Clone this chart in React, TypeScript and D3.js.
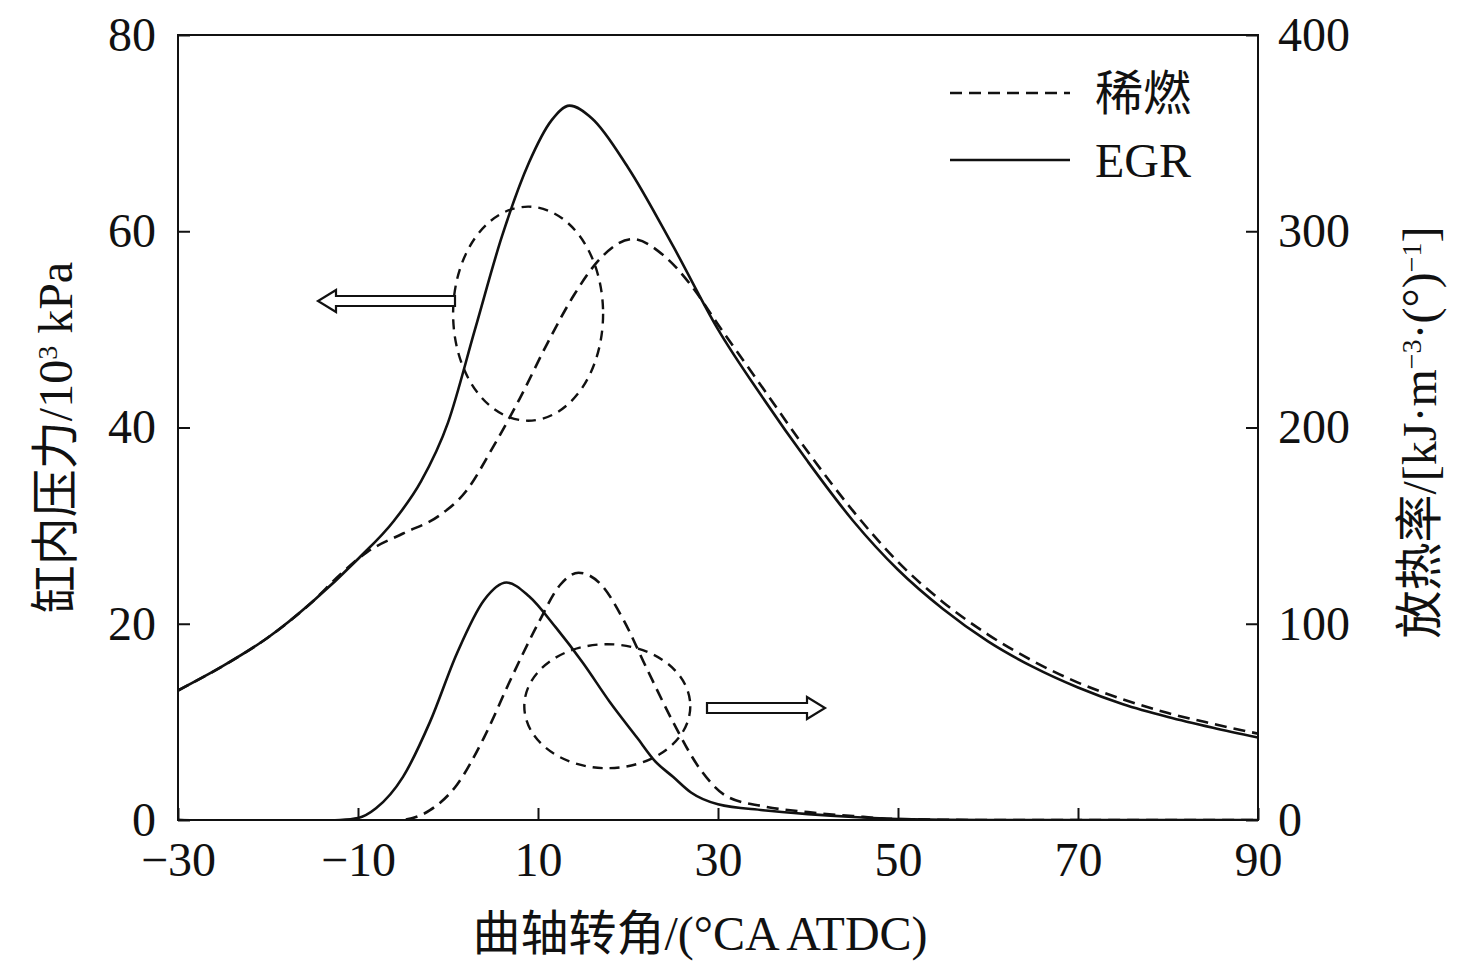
import * as d3 from "d3";
import { useEffect, useRef } from "react";

const egrPressure: [number, number][] = [
  [-30, 13.2], [-25, 15.7], [-20, 18.6], [-15, 22.3], [-10, 26.6], [-6, 30.5], [-3, 34.5], [0, 40.5],
  [3, 50], [6, 59.5], [9, 67], [11.5, 71.3], [13.5, 72.8], [16, 71.5], [20, 66.5], [25, 58.5],
  [30, 50], [35, 43], [40, 36.5], [45, 30.5], [50, 25.5], [55, 21.5], [60, 18.2], [65, 15.6],
  [70, 13.5], [75, 11.8], [80, 10.5], [85, 9.4], [90, 8.4],
];
const leanPressure: [number, number][] = [
  [-30, 13.2], [-25, 15.7], [-20, 18.6], [-15, 22.3], [-12, 25], [-9, 27.3], [-5, 29.2], [-1, 31],
  [2, 33.5], [5, 38], [8, 43], [11, 48.5], [14, 53.5], [17, 57.3], [20.5, 59.2], [24, 57.5],
  [27, 54.5], [30, 50.5], [35, 44], [40, 37.5], [45, 31.5], [50, 26.3], [55, 22.2], [60, 18.9],
  [65, 16.2], [70, 14], [75, 12.3], [80, 10.9], [85, 9.8], [90, 8.8],
];
const egrHeat: [number, number][] = [
  [-30, 0], [-20, -1], [-12, 0], [-10, 1], [-8, 6], [-5, 22], [-2, 50], [1, 85], [4, 112],
  [6.5, 121], [9, 114], [12, 98], [15, 80], [18, 60], [21, 42], [23, 30], [25, 22], [27, 14],
  [30, 8], [35, 5], [40, 3], [45, 1.5], [50, 0.5], [60, 0], [90, 0],
];
const leanHeat: [number, number][] = [
  [-30, 0], [-20, -1], [-8, -1], [-5, 0], [-2, 5], [1, 18], [4, 42], [7, 72], [10, 100],
  [12.5, 120], [14.5, 126], [17, 120], [19.5, 102], [22, 78], [25, 50], [28, 26], [31, 12],
  [35, 7], [40, 4], [45, 2], [50, 0.5], [60, 0], [90, 0],
];
const xTicks = [-30, -10, 10, 30, 50, 70, 90];
const yLeftTicks = [0, 20, 40, 60, 80];
const yRightTicks = [0, 100, 200, 300, 400];

const W = 1476, H = 972;
const m = { left: 178, right: 1258, top: 35, bottom: 820 };
const serif = "'Liberation Serif', 'Times New Roman', serif";
const cjk = "'Liberation Serif', 'Noto Sans CJK SC', serif";

export default function App() {
  const ref = useRef<SVGSVGElement | null>(null);
  useEffect(() => {
    if (!ref.current) return;
    const svg = d3.select(ref.current);
    svg.selectAll("*").remove();
    const x = d3.scaleLinear().domain([-30, 90]).range([m.left, m.right]);
    const yL = d3.scaleLinear().domain([0, 80]).range([m.bottom, m.top]);
    const yR = d3.scaleLinear().domain([0, 400]).range([m.bottom, m.top]);

    svg.append("rect").attr("x", m.left).attr("y", m.top).attr("width", m.right - m.left)
      .attr("height", m.bottom - m.top).attr("fill", "none").attr("stroke", "#111").attr("stroke-width", 2);

    const gx = svg.append("g").attr("transform", `translate(0,${m.bottom})`)
      .call(d3.axisBottom(x).tickValues(xTicks).tickSizeInner(-12).tickSizeOuter(0).tickPadding(22)
        .tickFormat((d) => (+d < 0 ? "\u2212" + Math.abs(+d) : String(d))));
    const gl = svg.append("g").attr("transform", `translate(${m.left},0)`)
      .call(d3.axisLeft(yL).tickValues(yLeftTicks).tickSizeInner(-12).tickSizeOuter(0).tickPadding(22));
    const gr = svg.append("g").attr("transform", `translate(${m.right},0)`)
      .call(d3.axisRight(yR).tickValues(yRightTicks).tickSizeInner(-12).tickSizeOuter(0).tickPadding(20));
    [gx, gl, gr].forEach((g) => {
      g.select(".domain").remove();
      g.selectAll("line").attr("stroke", "#111").attr("stroke-width", 2);
      g.selectAll("text").attr("font-family", serif).attr("font-size", 48).attr("fill", "#111");
    });
    gl.selectAll("text").attr("dy", "0.32em");
    gr.selectAll("text").attr("dy", "0.32em");

    svg.append("clipPath").attr("id", "c").append("rect")
      .attr("x", m.left).attr("y", m.top).attr("width", m.right - m.left).attr("height", m.bottom - m.top);
    const plot = svg.append("g").attr("clip-path", "url(#c)");
    const lineL = d3.line<[number, number]>().x((d) => x(d[0])).y((d) => yL(d[1])).curve(d3.curveMonotoneX);
    const lineR = d3.line<[number, number]>().x((d) => x(d[0])).y((d) => yR(d[1])).curve(d3.curveMonotoneX);
    const draw = (d: string | null, dash: boolean) =>
      plot.append("path").attr("d", d).attr("fill", "none").attr("stroke", "#111").attr("stroke-width", 2.6)
        .attr("stroke-dasharray", dash ? "12,7" : null);
    draw(lineL(leanPressure), true);
    draw(lineL(egrPressure), false);
    draw(lineR(leanHeat), true);
    draw(lineR(egrHeat), false);

    // annotation ellipses
    svg.append("ellipse").attr("cx", x(8.9)).attr("cy", yL(51.6)).attr("rx", 75).attr("ry", 107)
      .attr("fill", "none").attr("stroke", "#111").attr("stroke-width", 2.4).attr("stroke-dasharray", "10,7");
    svg.append("ellipse").attr("cx", x(17.7)).attr("cy", yR(58)).attr("rx", 83).attr("ry", 62)
      .attr("fill", "none").attr("stroke", "#111").attr("stroke-width", 2.4).attr("stroke-dasharray", "10,7");

    // hollow arrows
    const arrow = (x0: number, x1: number, yc: number) => {
      const dir = Math.sign(x1 - x0);
      const hb = x1 - dir * 18;
      const pts = [[x0, yc - 5], [hb, yc - 5], [hb, yc - 11], [x1, yc], [hb, yc + 11], [hb, yc + 5], [x0, yc + 5]];
      svg.append("path").attr("d", "M" + pts.map((p) => p.join(",")).join("L") + "Z")
        .attr("fill", "white").attr("stroke", "#111").attr("stroke-width", 2.2);
    };
    arrow(455, 318, 301);
    arrow(707, 825, 708);

    // legend
    const lg = [{ t: "稀燃", y: 93, dash: true }, { t: "EGR", y: 160, dash: false }];
    lg.forEach((l) => {
      svg.append("line").attr("x1", 950).attr("x2", 1070).attr("y1", l.y).attr("y2", l.y)
        .attr("stroke", "#111").attr("stroke-width", 2.6).attr("stroke-dasharray", l.dash ? "12,7" : null);
      svg.append("text").attr("x", 1095).attr("y", l.y + 17).attr("font-family", cjk).attr("font-size", 48)
        .attr("fill", "#111").text(l.t);
    });

    svg.append("text").attr("x", 700).attr("y", 950).attr("text-anchor", "middle")
      .attr("font-family", cjk).attr("font-size", 48).attr("fill", "#111").text("曲轴转角/(°CA ATDC)");
    svg.append("text").attr("transform", `translate(72,${(m.top + m.bottom) / 2 + 10}) rotate(-90)`)
      .attr("text-anchor", "middle").attr("font-family", cjk).attr("font-size", 48).attr("fill", "#111")
      .html('缸内压力/10<tspan baseline-shift="super" font-size="28">3</tspan> kPa');
    svg.append("text").attr("transform", `translate(1436,${(m.top + m.bottom) / 2 + 5}) rotate(-90)`)
      .attr("text-anchor", "middle").attr("font-family", cjk).attr("font-size", 48).attr("fill", "#111")
      .html('放热率/[kJ·m<tspan baseline-shift="super" font-size="28">−3</tspan>·(°)<tspan baseline-shift="super" font-size="28">−1</tspan>]');
  }, []);
  return <svg ref={ref} width={W} height={H} style={{ position: "absolute", left: 0, top: 0, background: "white" }} />;
}
